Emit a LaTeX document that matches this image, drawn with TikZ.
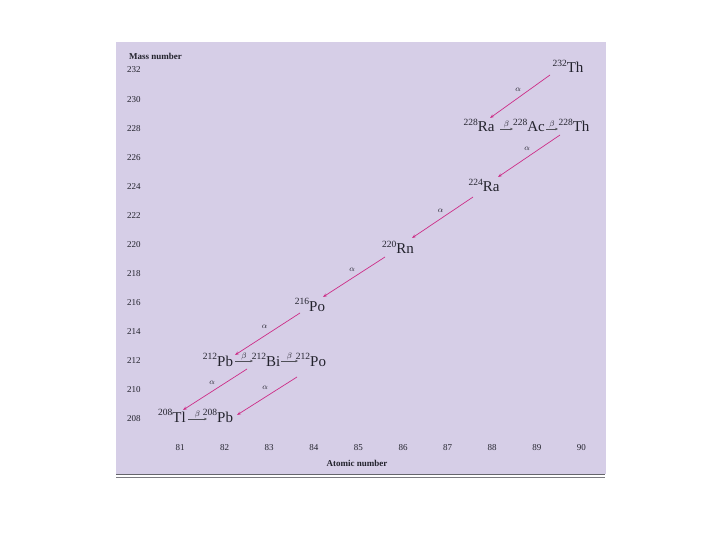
\documentclass[tikz,border=0pt]{standalone}
\usepackage{fontspec}
\setmainfont{Liberation Serif}
\usetikzlibrary{calc,arrows.meta}
\definecolor{panel}{RGB}{214,206,231}
\definecolor{alphac}{RGB}{205,45,135}
\definecolor{ink}{RGB}{35,35,45}
\newcommand{\nuc}[2]{\raisebox{6.5pt}{\fontsize{9.5}{10}\selectfont #1}#2}
\begin{document}
\begin{tikzpicture}[x=1pt,y=-1pt,
  nuclide/.style={anchor=base, inner sep=0pt, font=\fontsize{15}{16}\selectfont, text=ink},
  axnum/.style={font=\fontsize{9}{10}\selectfont, text=ink, inner sep=0pt},
  axtitle/.style={font=\fontsize{9}{10}\selectfont\bfseries, text=ink, inner sep=0pt},
  adecay/.style={draw=alphac, line width=0.7pt, -{Stealth[length=4pt,width=3pt]}},
  bdecay/.style={draw=ink!80, line width=0.5pt, -{Stealth[length=3pt,width=2.4pt]}},
  alab/.style={font=\fontsize{8}{9}\selectfont, text=ink, inner sep=0pt},
]
\useasboundingbox (0,0) rectangle (720,540);
\fill[panel] (116,42) rectangle (606,474);
\draw[ink!70, line width=1.2pt] (116,474.5) -- (605,474.5);
\draw[ink!60, line width=0.5pt] (116,477) -- (605,477);

% axes
\node[axtitle, anchor=west] (mlab) at (129,56) {Mass number};
\foreach \m in {232,230,...,208}
  \node[axnum, anchor=west] (m\m) at (127,{70+(232-\m)*14.54}) {\m};
\foreach \z in {81,...,90}
  \node[axnum] (z\z) at ({180+(\z-81)*44.6},448) {\z};
\node[axtitle] (zlab) at (357,463) {Atomic number};

% nuclides
\node[nuclide] (Th232) at (568,73)  {\nuc{232}{Th}};
\node[nuclide] (Ra228) at (479,132) {\nuc{228}{Ra}};
\node[nuclide] (Ac228) at (529,132) {\nuc{228}{Ac}};
\node[nuclide] (Th228) at (574,132) {\nuc{228}{Th}};
\node[nuclide] (Ra224) at (484,192) {\nuc{224}{Ra}};
\node[nuclide] (Rn220) at (398,254) {\nuc{220}{Rn}};
\node[nuclide] (Po216) at (310,311) {\nuc{216}{Po}};
\node[nuclide] (Pb212) at (218,366) {\nuc{212}{Pb}};
\node[nuclide] (Bi212) at (266,366) {\nuc{212}{Bi}};
\node[nuclide] (Po212) at (311,366) {\nuc{212}{Po}};
\node[nuclide] (Tl208) at (172,422) {\nuc{208}{Tl}};
\node[nuclide] (Pb208) at (218,422) {\nuc{208}{Pb}};

% alpha decays
\draw[adecay] ($(Th232.base)+(-18,2)$) -- node[alab, shift={(-2,-7)}] {$\alpha$} ($(Ra228.base)+(11,-14)$);
\draw[adecay] ($(Th228.base)+(-14,3)$) -- node[alab, shift={(-2,-7)}] {$\alpha$} ($(Ra224.base)+(14,-15)$);
\draw[adecay] ($(Ra224.base)+(-11,5)$) -- node[alab, shift={(-2,-7)}] {$\alpha$} ($(Rn220.base)+(14,-16)$);
\draw[adecay] ($(Rn220.base)+(-13,3)$) -- node[alab, shift={(-2,-7)}] {$\alpha$} ($(Po216.base)+(13,-14)$);
\draw[adecay] ($(Po216.base)+(-10,2)$) -- node[alab, shift={(-3,-7)}] {$\alpha$} ($(Pb212.base)+(17,-11)$);
\draw[adecay] ($(Pb212.base)+(29,3)$) -- node[alab, shift={(-3,-7)}] {$\alpha$} ($(Tl208.base)+(11,-12)$);
\draw[adecay] ($(Po212.base)+(-14,11)$) -- node[alab, shift={(-2,-8)}] {$\alpha$} ($(Pb208.base)+(19,-7)$);

% beta decays
\draw[bdecay] ($(Ra228.base)+(21,-3)$) -- node[alab, above=0.5pt] {$\beta$} ($(Ac228.base)+(-16,-3)$);
\draw[bdecay] ($(Ac228.base)+(17,-3)$) -- node[alab, above=0.5pt] {$\beta$} ($(Th228.base)+(-16,-3)$);
\draw[bdecay] ($(Pb212.base)+(17,-5)$) -- node[alab, above=0.5pt] {$\beta$} ($(Bi212.base)+(-13,-5)$);
\draw[bdecay] ($(Bi212.base)+(15,-5)$) -- node[alab, above=0.5pt] {$\beta$} ($(Po212.base)+(-13,-5)$);
\draw[bdecay] ($(Tl208.base)+(16,-3)$) -- node[alab, above=0.5pt] {$\beta$} ($(Pb208.base)+(-11,-3)$);
\end{tikzpicture}
\end{document}
